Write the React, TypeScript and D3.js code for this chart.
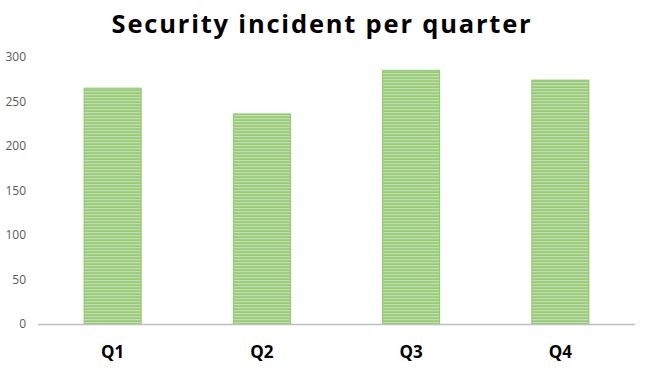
import React from "react";
import * as d3 from "d3";

const categories = ["Q1", "Q2", "Q3", "Q4"];
const values = [265, 236, 285, 274];
const yTicks = [0, 50, 100, 150, 200, 250, 300];
const title = "Security incident per quarter";

export default function App() {
  const W = 649, H = 370;
  const left = 38, right = 635, top = 57, bottom = 324;
  const x = d3.scaleBand<string>().domain(categories).range([left, right]).paddingInner(0.618).paddingOuter(0.309);
  const y = d3.scaleLinear().domain([0, 300]).range([bottom, top]);
  return (
    <svg width={W} height={H} style={{ position: "absolute", left: 0, top: 0, background: "#fff" }}>
      <defs>
        <pattern id="stripes" width="6" height="3" patternUnits="userSpaceOnUse">
          <rect width="6" height="3" fill="#97cc75" />
          <rect y="1.2" width="6" height="1" fill="#cfe3c2" />
        </pattern>
      </defs>
      <text x={322} y={33} textAnchor="middle" fontFamily="'Open Sans', sans-serif" fontWeight="bold" fontSize={25.5} letterSpacing={1.8} fill="#000">{title}</text>
      {yTicks.map(t => (
        <text key={t} x={26} y={y(t)} dy="0.35em" textAnchor="end" fontFamily="'Open Sans', sans-serif" fontSize={12} fill="#595959">{t}</text>
      ))}
      {categories.map((c, i) => (
        <rect key={c} x={x(c)} y={y(values[i])} width={x.bandwidth()} height={bottom - y(values[i])} fill="url(#stripes)" stroke="#8cc768" strokeWidth={1} />
      ))}
      <line x1={left} x2={right} y1={bottom + 0.5} y2={bottom + 0.5} stroke="#bfbfbf" strokeWidth={1.5} />
      {categories.map(c => (
        <text key={c} x={(x(c) as number) + x.bandwidth() / 2} y={352} dy="0.35em" textAnchor="middle" fontFamily="'Open Sans', sans-serif" fontWeight="bold" fontSize={17} fill="#000">{c}</text>
      ))}
    </svg>
  );
}
